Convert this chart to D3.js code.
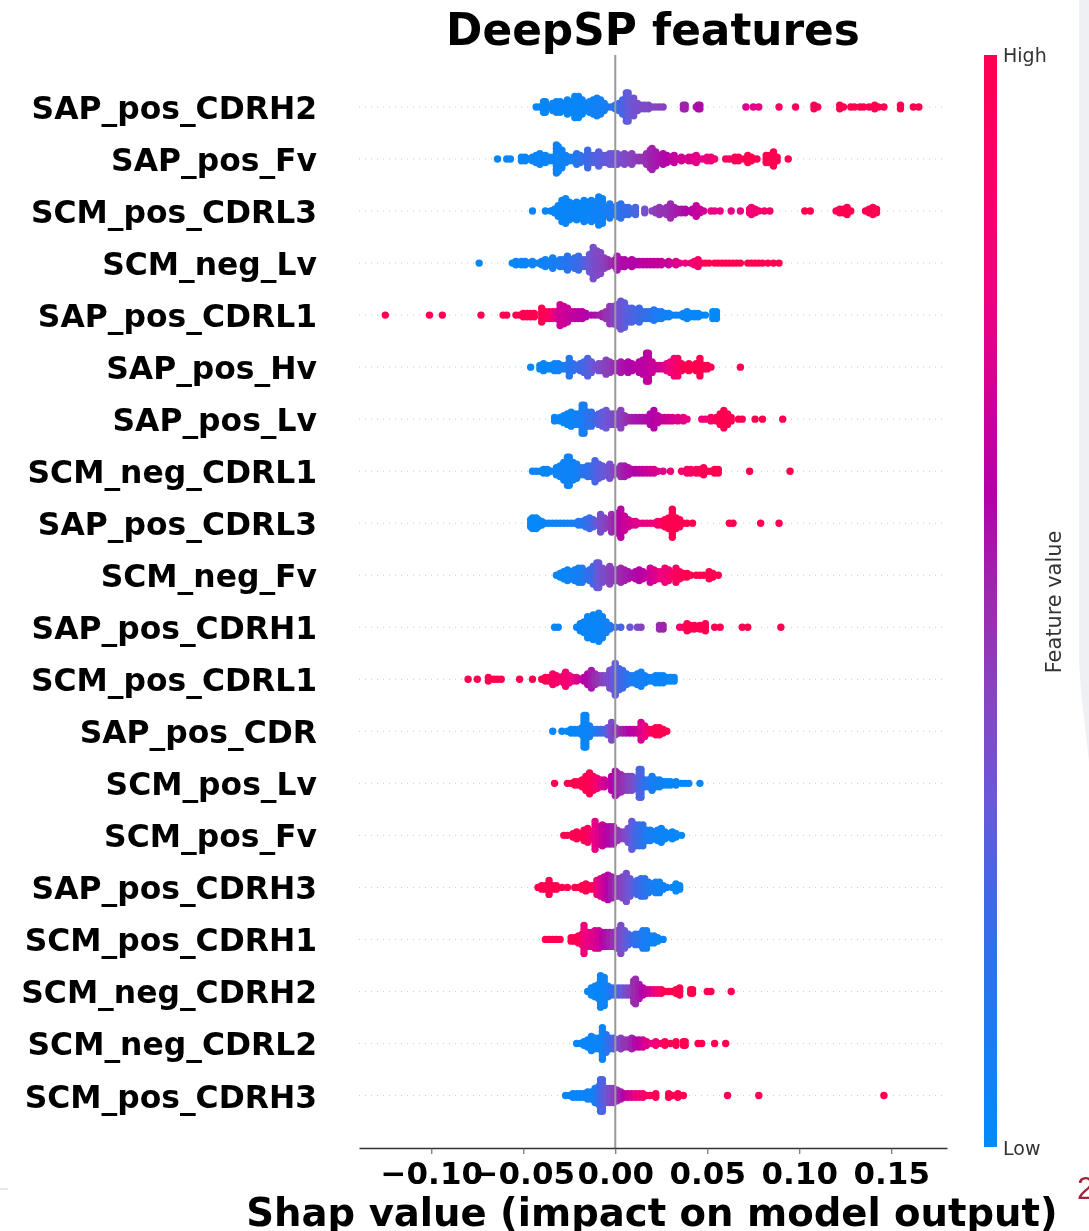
<!DOCTYPE html>
<html>
<head>
<meta charset="utf-8">
<script src="https://cdn.jsdelivr.net/npm/d3@7"></script>
<style>
    html, body { margin: 0; padding: 0; background: #fff; }
    svg { display: block; filter: blur(0.5px); }
    text { font-family: "DejaVu Sans", sans-serif; }
</style>
</head>
<body>
<div id="chart"></div>
<script>
    // each column of a swarm: [shap value x 1000, points stacked at that value, feature value 0-100]
    var SAP_pos_CDRH2 = [[-43,1,3],[-41,1,3],[-39,4,3],[-38,4,3],[-36,1,3],[-34,3,3],[-32,4,3],[-30,4,3],[-28,3,3],[-26,5,3],[-24,4,3],[-22,7,3],[-20,7,3],[-18,5,3],[-16,3,4],[-14,4,4],[-12,5,5],[-10,6,6],[-8,5,7],[-6,3,8],[-4,1,10],[-2,1,12],[0,2,16],[2,3,20],[4,5,24],[6,9,27],[7,9,30],[9,4,32],[10,6,34],[12,3,36],[14,2,36],[16,2,38],[18,2,38],[20,1,40],[22,1,40],[24,1,42],[26,1,42],[37,2,52],[38,2,52],[44,1,56],[45,2,56],[46,2,58],[71,1,72],[75,1,75],[78,1,76],[89,1,92],[98,1,95],[108,2,98],[110,1,99],[122,2,100],[124,1,100],[128,1,100],[130,1,100],[133,1,100],[135,1,100],[138,1,100],[141,2,100],[143,1,100],[146,1,100],[155,2,100],[162,1,100],[165,1,100]];
    var SAP_pos_Fv = [[-64,1,3],[-59,1,3],[-57,1,3],[-51,2,3],[-49,2,3],[-47,1,3],[-45,2,4],[-43,3,4],[-41,4,4],[-38,3,4],[-36,2,4],[-34,2,5],[-32,9,5],[-31,8,5],[-29,6,5],[-27,3,6],[-25,2,6],[-23,2,8],[-21,4,12],[-19,3,15],[-17,2,18],[-15,6,22],[-13,3,24],[-11,3,26],[-9,5,28],[-7,3,29],[-5,3,30],[-3,4,32],[-1,4,33],[1,4,34],[3,3,36],[5,4,38],[7,3,40],[9,4,42],[11,2,44],[13,2,46],[15,2,47],[17,4,49],[19,6,50],[20,7,52],[22,5,54],[24,3,56],[26,4,58],[28,3,60],[30,2,62],[32,3,64],[34,1,66],[36,2,68],[38,1,70],[40,2,71],[42,2,73],[44,3,74],[46,1,75],[48,1,76],[50,2,78],[52,2,80],[54,1,85],[60,1,92],[62,1,95],[65,2,97],[67,2,98],[70,1,99],[72,3,100],[74,2,100],[77,1,100],[82,3,100],[84,3,100],[86,5,100],[88,2,100],[94,1,100]];
    var SCM_pos_CDRL3 = [[-45,1,3],[-38,1,3],[-35,1,3],[-33,2,3],[-31,4,3],[-29,7,3],[-27,8,3],[-25,6,3],[-23,5,3],[-21,6,3],[-19,5,3],[-17,7,4],[-15,6,4],[-13,7,4],[-11,6,5],[-9,9,5],[-7,8,6],[-5,3,8],[-3,5,10],[-1,3,12],[1,4,14],[3,5,16],[5,3,18],[7,3,20],[9,2,22],[11,3,24],[16,2,36],[20,1,42],[22,2,44],[24,3,46],[26,2,47],[28,3,48],[30,5,50],[32,3,52],[34,2,54],[36,2,56],[38,2,58],[40,1,60],[42,2,62],[44,4,64],[46,2,66],[48,1,68],[52,1,76],[54,1,76],[57,1,76],[63,1,74],[68,1,76],[73,2,82],[74,3,82],[76,2,84],[78,1,86],[81,1,88],[84,1,90],[103,1,100],[106,1,100],[120,1,100],[122,2,100],[124,2,100],[126,3,100],[128,1,100],[136,1,100],[138,2,100],[140,3,100],[142,2,100]];
    var SCM_neg_Lv = [[-74,1,3],[-56,1,3],[-54,2,3],[-51,2,3],[-49,2,3],[-47,1,4],[-45,2,4],[-42,1,5],[-40,2,6],[-38,3,6],[-36,2,7],[-34,4,8],[-32,2,9],[-30,3,10],[-28,3,12],[-26,5,14],[-24,3,16],[-22,4,18],[-20,5,20],[-18,3,24],[-16,3,28],[-14,6,32],[-12,10,36],[-10,8,38],[-8,7,40],[-6,4,42],[-4,3,46],[-2,2,50],[0,3,52],[1,5,54],[3,3,56],[5,3,58],[7,2,58],[9,3,60],[11,2,60],[13,2,60],[15,2,61],[17,2,62],[19,2,62],[21,2,63],[23,2,64],[25,2,64],[27,1,66],[29,2,66],[31,1,70],[33,2,72],[35,1,74],[38,1,78],[41,1,82],[43,2,86],[45,3,88],[47,1,92],[49,1,96],[51,1,100],[54,1,100],[56,1,100],[58,1,100],[60,1,100],[62,1,100],[64,1,100],[66,1,100],[68,1,100],[72,1,100],[74,1,100],[76,1,100],[78,1,100],[80,1,100],[83,1,100],[86,1,100],[89,1,100]];
    var SAP_pos_CDRL1 = [[-125,1,100],[-101,1,100],[-94,1,100],[-73,1,100],[-61,1,100],[-59,1,100],[-54,1,100],[-52,1,100],[-50,2,100],[-48,2,100],[-46,2,100],[-44,2,100],[-40,5,100],[-38,3,99],[-36,3,92],[-34,3,84],[-32,3,74],[-30,7,68],[-28,6,68],[-26,5,66],[-24,3,64],[-22,3,64],[-20,3,62],[-18,3,62],[-16,2,60],[-13,1,58],[-11,1,56],[-9,1,54],[-7,2,52],[-5,3,48],[-3,6,46],[-1,6,42],[1,7,36],[3,9,34],[5,8,30],[7,5,28],[9,5,26],[11,4,24],[13,5,22],[15,3,20],[17,3,18],[19,3,16],[21,4,12],[23,3,10],[25,3,8],[27,2,6],[29,2,6],[31,1,5],[33,1,5],[35,1,4],[37,2,4],[39,3,3],[41,2,3],[43,2,3],[45,2,3],[47,1,2],[49,1,2],[53,3,1],[55,3,1]];
    var SAP_pos_Hv = [[-46,1,2],[-41,2,3],[-39,3,3],[-37,2,3],[-35,2,4],[-33,3,5],[-31,3,6],[-29,2,8],[-27,2,10],[-25,6,12],[-23,3,16],[-21,2,18],[-19,3,22],[-17,4,24],[-15,6,26],[-13,4,30],[-11,2,34],[-9,3,36],[-7,3,40],[-5,5,42],[-3,4,44],[-1,3,48],[1,3,52],[3,4,54],[5,3,56],[7,4,58],[9,3,60],[11,2,60],[13,4,62],[15,5,62],[17,9,64],[18,9,64],[20,4,66],[22,2,66],[24,2,68],[26,2,70],[28,3,74],[30,4,78],[32,6,84],[34,6,88],[36,3,96],[38,2,100],[40,3,100],[42,2,100],[44,3,100],[46,6,100],[48,2,100],[50,2,100],[52,1,100],[68,1,100]];
    var SAP_pos_Lv = [[-33,2,3],[-30,2,3],[-28,3,3],[-26,4,4],[-24,5,4],[-22,4,5],[-20,4,7],[-18,9,8],[-17,9,9],[-15,5,14],[-13,5,18],[-11,3,22],[-9,4,26],[-7,5,30],[-5,6,32],[-3,4,35],[-1,4,38],[1,4,40],[3,6,42],[5,3,46],[7,2,50],[9,2,52],[11,2,54],[13,2,55],[15,2,56],[17,2,57],[19,4,58],[21,6,60],[23,3,62],[25,2,64],[27,2,66],[29,2,68],[31,2,70],[34,2,72],[37,2,75],[39,1,76],[47,1,80],[49,1,84],[52,2,90],[55,2,96],[57,4,100],[59,6,100],[61,4,100],[63,2,100],[67,1,100],[69,1,100],[76,1,100],[80,1,100],[91,1,100]];
    var SCM_neg_CDRL1 = [[-45,1,3],[-43,1,3],[-41,1,3],[-39,2,3],[-37,2,3],[-35,1,4],[-32,3,4],[-30,4,4],[-28,6,5],[-26,9,5],[-25,9,5],[-23,6,5],[-21,5,8],[-19,3,10],[-17,3,14],[-15,4,16],[-13,4,20],[-11,7,24],[-9,5,28],[-7,4,30],[-5,3,32],[-3,5,35],[-1,3,40],[1,2,46],[3,4,50],[5,4,54],[7,3,56],[9,2,58],[11,2,60],[13,2,62],[15,2,64],[17,2,66],[19,2,68],[21,2,70],[23,1,72],[26,1,74],[30,1,80],[36,1,86],[39,2,90],[41,2,92],[44,2,94],[46,2,96],[48,3,100],[50,1,100],[52,1,100],[54,2,100],[56,2,100],[73,1,100],[95,1,100]];
    var SAP_pos_CDRL3 = [[-46,3,2],[-45,4,2],[-43,4,2],[-42,3,2],[-40,2,3],[-38,1,3],[-36,1,3],[-34,1,4],[-32,1,4],[-30,1,5],[-28,1,6],[-26,1,6],[-24,1,7],[-22,1,8],[-20,2,10],[-18,2,12],[-16,3,16],[-14,4,20],[-12,3,26],[-10,2,32],[-8,6,36],[-6,4,40],[-4,3,44],[-2,6,48],[0,5,52],[2,7,58],[3,9,62],[5,5,66],[7,3,68],[9,2,70],[11,2,72],[13,1,74],[15,1,76],[17,1,78],[19,1,78],[21,1,80],[23,2,86],[25,2,92],[27,3,100],[29,4,100],[31,9,100],[33,4,100],[35,3,100],[37,1,100],[39,1,100],[42,1,100],[62,1,100],[64,1,100],[79,1,100],[89,1,100]];
    var SCM_neg_Fv = [[-32,1,3],[-30,2,3],[-28,3,3],[-26,4,4],[-24,3,5],[-22,4,6],[-20,5,8],[-18,5,10],[-16,3,14],[-14,4,18],[-12,6,22],[-10,8,28],[-9,8,32],[-7,5,36],[-5,4,38],[-3,6,42],[-1,4,44],[1,4,46],[3,5,50],[5,4,52],[7,3,54],[9,2,56],[11,3,58],[13,4,60],[15,3,62],[17,2,64],[19,5,68],[21,4,70],[23,3,74],[25,3,78],[27,5,80],[29,4,84],[31,2,88],[33,5,92],[35,3,96],[37,2,100],[39,2,100],[41,1,100],[44,1,100],[46,1,100],[48,1,100],[51,3,100],[53,2,100],[56,1,100]];
    var SAP_pos_CDRH1 = [[-33,1,3],[-31,1,3],[-21,1,3],[-19,3,3],[-17,4,3],[-15,7,3],[-14,5,3],[-12,8,3],[-10,6,4],[-9,9,4],[-7,7,5],[-5,4,6],[-3,2,10],[0,1,18],[3,1,25],[8,1,32],[12,1,38],[14,1,42],[24,2,50],[26,2,52],[35,1,88],[37,1,92],[39,3,100],[41,2,100],[43,2,100],[46,2,100],[48,2,100],[49,3,100],[54,1,100],[57,1,100],[69,1,100],[72,1,100],[90,1,100]];
    var SCM_pos_CDRL1 = [[-80,1,100],[-75,1,100],[-69,2,100],[-66,1,100],[-64,1,100],[-62,1,100],[-52,1,100],[-45,1,100],[-40,1,100],[-38,2,100],[-36,2,96],[-34,4,92],[-32,3,90],[-30,2,88],[-28,3,86],[-27,5,85],[-25,3,82],[-23,2,78],[-21,2,74],[-19,1,68],[-17,2,62],[-15,4,58],[-13,6,54],[-11,4,50],[-9,3,46],[-7,3,42],[-5,3,38],[-3,6,36],[-1,7,32],[0,10,30],[2,7,26],[4,6,22],[6,4,16],[8,3,12],[10,3,10],[12,4,8],[14,5,7],[16,3,6],[18,2,5],[20,2,4],[22,3,4],[24,3,3],[26,3,3],[28,2,3],[30,2,2],[32,2,2]];
    var SAP_pos_CDR = [[-34,1,3],[-29,1,3],[-26,1,3],[-24,2,3],[-22,2,3],[-20,2,3],[-18,3,3],[-17,10,3],[-16,10,4],[-14,4,6],[-12,2,8],[-10,2,12],[-8,2,18],[-6,2,24],[-4,3,30],[-2,6,38],[0,3,44],[2,2,48],[4,2,52],[6,2,56],[8,2,60],[10,2,62],[12,2,66],[14,6,70],[16,4,76],[18,2,88],[20,2,96],[22,3,100],[24,3,100],[26,2,100],[28,1,100]];
    var SCM_pos_Lv = [[-33,1,100],[-26,1,100],[-24,1,100],[-22,2,100],[-20,2,100],[-18,3,100],[-16,5,100],[-14,7,100],[-12,5,96],[-10,4,84],[-8,3,74],[-6,3,70],[-4,2,66],[-2,5,60],[0,8,56],[1,7,54],[3,6,50],[5,5,46],[7,5,42],[9,5,38],[11,4,34],[13,9,26],[14,9,24],[16,3,16],[18,3,12],[20,5,10],[22,3,8],[24,3,6],[26,2,5],[28,2,4],[30,2,3],[33,2,3],[36,1,3],[38,1,2],[40,1,2],[46,1,2]];
    var SCM_pos_Fv = [[-28,1,100],[-26,1,100],[-23,2,100],[-21,3,100],[-19,2,100],[-17,4,100],[-15,5,94],[-13,3,84],[-11,9,76],[-9,6,72],[-7,7,66],[-5,6,62],[-3,6,58],[-1,6,54],[1,4,48],[3,3,44],[5,3,40],[7,5,36],[9,9,30],[11,7,24],[13,7,20],[15,7,16],[17,4,10],[19,4,8],[21,3,6],[23,4,5],[25,5,5],[27,3,4],[29,2,4],[31,3,3],[33,2,3],[36,1,2]];
    var SAP_pos_CDRH3 = [[-42,1,100],[-40,2,100],[-38,2,100],[-36,5,100],[-34,2,100],[-32,2,100],[-29,1,100],[-26,1,100],[-22,1,100],[-20,1,100],[-18,2,100],[-16,3,100],[-14,2,100],[-12,2,96],[-10,5,84],[-8,6,72],[-6,7,66],[-4,8,60],[-2,7,54],[0,6,48],[2,6,44],[4,7,40],[6,9,36],[8,6,32],[10,4,28],[12,5,22],[14,6,20],[16,6,16],[18,4,12],[20,3,10],[22,4,8],[24,4,6],[26,2,6],[28,1,5],[31,1,3],[33,3,2],[35,2,2]];
    var SCM_pos_CDRH1 = [[-38,1,100],[-36,1,100],[-34,1,100],[-32,1,100],[-30,1,100],[-24,2,100],[-22,2,100],[-20,3,100],[-18,4,94],[-17,9,82],[-15,5,78],[-13,5,74],[-11,6,72],[-9,6,68],[-7,5,62],[-5,5,56],[-3,5,52],[-1,5,48],[1,6,44],[3,9,38],[5,6,32],[7,4,28],[9,3,22],[11,4,18],[13,4,14],[15,6,10],[17,6,8],[19,3,7],[21,3,5],[23,2,4],[26,1,3]];
    var SCM_neg_CDRH2 = [[-15,1,3],[-13,3,3],[-11,4,3],[-9,5,3],[-8,10,3],[-6,9,4],[-4,4,8],[-2,3,14],[0,3,20],[2,3,26],[4,3,32],[6,3,36],[8,3,42],[10,7,48],[11,8,50],[13,5,54],[15,3,60],[17,2,64],[19,2,68],[21,2,74],[23,2,84],[25,2,92],[27,1,100],[29,1,100],[31,1,100],[33,2,100],[35,3,100],[41,2,100],[42,2,100],[50,1,100],[52,1,100],[63,1,100]];
    var SCM_neg_CDRL2 = [[-21,1,3],[-19,1,3],[-17,2,3],[-15,3,3],[-13,5,3],[-11,4,4],[-9,4,4],[-7,10,5],[-5,6,12],[-3,4,20],[-1,4,26],[1,3,34],[3,4,42],[5,3,46],[7,3,48],[9,4,52],[11,3,58],[13,3,62],[15,3,68],[17,2,72],[20,1,76],[22,2,82],[25,1,90],[27,2,96],[30,1,100],[33,2,100],[37,2,100],[38,2,100],[45,1,100],[47,1,100],[54,1,100],[60,1,100]];
    var SCM_pos_CDRH3 = [[-27,1,3],[-25,1,3],[-23,2,3],[-21,2,4],[-19,2,4],[-17,2,5],[-15,3,5],[-13,3,6],[-11,5,8],[-9,6,14],[-8,10,22],[-7,10,26],[-5,5,32],[-3,5,38],[-1,5,42],[1,4,48],[3,3,54],[5,2,60],[7,2,66],[9,2,70],[11,2,76],[13,2,80],[15,2,86],[17,1,90],[19,1,94],[22,2,98],[29,2,100],[31,1,100],[34,2,100],[37,1,100],[61,1,100],[78,1,100],[146,1,100]];

    var featureNames = ["SAP_pos_CDRH2", "SAP_pos_Fv", "SCM_pos_CDRL3", "SCM_neg_Lv", "SAP_pos_CDRL1", "SAP_pos_Hv", "SAP_pos_Lv", "SCM_neg_CDRL1", "SAP_pos_CDRL3", "SCM_neg_Fv", "SAP_pos_CDRH1", "SCM_pos_CDRL1", "SAP_pos_CDR", "SCM_pos_Lv", "SCM_pos_Fv", "SAP_pos_CDRH3", "SCM_pos_CDRH1", "SCM_neg_CDRH2", "SCM_neg_CDRL2", "SCM_pos_CDRH3"];
    var swarms = [SAP_pos_CDRH2, SAP_pos_Fv, SCM_pos_CDRL3, SCM_neg_Lv, SAP_pos_CDRL1, SAP_pos_Hv, SAP_pos_Lv, SCM_neg_CDRL1, SAP_pos_CDRL3, SCM_neg_Fv, SAP_pos_CDRH1, SCM_pos_CDRL1, SAP_pos_CDR, SCM_pos_Lv, SCM_pos_Fv, SAP_pos_CDRH3, SCM_pos_CDRH1, SCM_neg_CDRH2, SCM_neg_CDRL2, SCM_pos_CDRH3];
    var xTicks = [-0.10, -0.05, 0.00, 0.05, 0.10, 0.15];
    var colorStops = [0, 22.6, 31.8, 41, 50, 60, 77.5, 100];
    var colorValues = ["#008bfb", "#3f68e6", "#6a58d8", "#8645c0", "#9a2bae", "#b400a8", "#ee0080", "#ff0051"];

    var width = 1089, height = 1231;
    var svg = d3.select("#chart").append("svg").attr("width", width).attr("height", height);

    var x = d3.scaleLinear().domain([-0.1393, 0.1803]).range([359, 947]);
    var y = d3.scalePoint().domain(featureNames).range([107, 1095.5]);
    var color = d3.scaleLinear().domain(colorStops).range(colorValues);
    var barY = d3.scaleLinear().domain([0, 100]).range([1147, 55]);

    var dotR = 3.7, stackStep = 3.5; // stackStep = vertical distance between stacked dots

    // page furniture that is part of the screenshot
    svg.append("path").attr("d", "M1079,0H1089V762L1081,692L1079,660Z").attr("fill", "#eff0f3");
    svg.append("rect").attr("x", 0).attr("y", 1188).attr("width", 8).attr("height", 2).attr("fill", "#e8e8e8");
    svg.append("text").attr("x", 1077).attr("y", 1199).attr("font-size", 31).attr("fill", "#a0233b")
        .style("font-family", "Liberation Sans").text("2");

    var plot = svg.append("g").attr("class", "plot");

    // dotted row guides
    plot.selectAll("line.guide").data(featureNames).enter().append("line").attr("class", "guide")
        .attr("x1", x.range()[0]).attr("x2", x.range()[1])
        .attr("y1", function (d) { return y(d); }).attr("y2", function (d) { return y(d); })
        .attr("stroke", "#ccc").attr("stroke-width", 1).attr("stroke-dasharray", "1 5");

    // swarm points: columns are expanded here to one circle per point
    featureNames.forEach(function (name, i) {
        var points = [];
        swarms[i].forEach(function (col) {
            for (var k = 0; k < col[1]; k++) {
                points.push({ shap: col[0] / 1000, offset: (k - (col[1] - 1) / 2) * stackStep, fv: col[2] });
            }
        });
        plot.append("g").selectAll("circle").data(points).enter().append("circle")
            .attr("cx", function (d) { return x(d.shap); })
            .attr("cy", function (d) { return y(name) + d.offset; })
            .attr("r", dotR)
            .attr("fill", function (d) { return color(d.fv); });
    });

    // zero line goes over the dots
    plot.append("line").attr("x1", x(0)).attr("x2", x(0)).attr("y1", 55).attr("y2", 1148)
        .attr("stroke", "#999").attr("stroke-width", 2);

    var axis = d3.axisBottom(x).tickValues(xTicks).tickFormat(d3.format(".2f")).tickSize(6).tickSizeOuter(0).tickPadding(8);
    var axisG = plot.append("g").attr("transform", "translate(0,1148)").call(axis);
    axisG.select(".domain").attr("stroke", "#333").attr("stroke-width", 1.5);
    axisG.selectAll(".tick line").attr("stroke", "#555");
    axisG.selectAll("text").attr("font-size", 31).attr("font-weight", "bold").attr("fill", "#000")
        .style("font-family", "DejaVu Sans").text(function (d) { return d3.format(".2f")(d).replace("-", "\u2212"); });

    // feature names
    plot.selectAll("text.name").data(featureNames).enter().append("text").attr("class", "name")
        .attr("x", 317).attr("y", function (d) { return y(d) + 12; })
        .attr("text-anchor", "end").attr("font-size", 31.4).attr("font-weight", "bold").attr("fill", "#000")
        .text(function (d) { return d; });

    plot.append("text").attr("x", 653).attr("y", 45).attr("text-anchor", "middle")
        .attr("font-size", 43.8).attr("font-weight", "bold").text("DeepSP features");
    plot.append("text").attr("x", 652).attr("y", 1226).attr("text-anchor", "middle")
        .attr("font-size", 38.6).attr("font-weight", "bold").text("Shap value (impact on model output)");

    // colour bar
    var grad = svg.append("defs").append("linearGradient").attr("id", "barGrad")
        .attr("x1", 0).attr("x2", 0).attr("y1", 1).attr("y2", 0);
    grad.selectAll("stop").data(colorStops).enter().append("stop")
        .attr("offset", function (d) { return d + "%"; })
        .attr("stop-color", function (d) { return color(d); });
    plot.append("rect").attr("x", 984).attr("y", barY(100)).attr("width", 13).attr("height", barY(0) - barY(100))
        .attr("fill", "url(#barGrad)");
    plot.append("text").attr("x", 1003).attr("y", 62).attr("font-size", 19).attr("fill", "#333").text("High");
    plot.append("text").attr("x", 1003).attr("y", 1155).attr("font-size", 19).attr("fill", "#333").text("Low");
    plot.append("text").attr("transform", "translate(1061,602) rotate(-90)").attr("text-anchor", "middle")
        .attr("font-size", 20.9).attr("fill", "#333").text("Feature value");
</script>
</body>
</html>
